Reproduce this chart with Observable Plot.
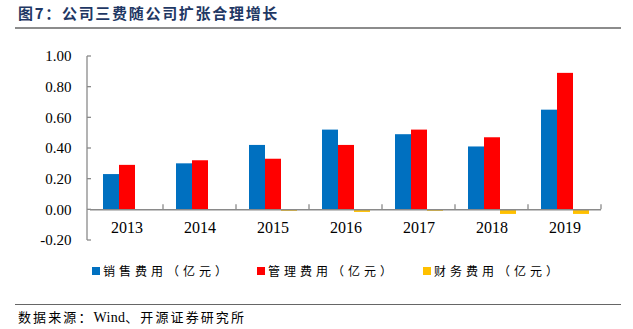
<!DOCTYPE html>
<html><head><meta charset="utf-8">
<script src="https://cdn.jsdelivr.net/npm/d3@7"></script>
<script src="https://cdn.jsdelivr.net/npm/@observablehq/plot@0.6"></script>
<style>
body{margin:0;width:633px;height:329px;position:relative;background:#fff;overflow:hidden;}
#title{position:absolute;left:18px;top:4px;font:bold 15px "Noto Sans CJK SC";color:#1F3864;letter-spacing:1.7px;white-space:nowrap;line-height:18px;}
.hr1{position:absolute;left:15px;right:12px;top:27px;height:2px;background:#8c8c8c;}
#chart{position:absolute;left:0;top:30px;}
#legend{position:absolute;top:263px;left:0;width:633px;height:18px;}
.item{position:absolute;top:0;font:12px "Noto Sans CJK SC";letter-spacing:4px;white-space:nowrap;line-height:16px;color:#000;}
.sw{display:inline-block;width:8px;height:8px;margin-right:3px;vertical-align:1px;}
.hr2{position:absolute;left:15px;right:12px;top:304px;height:1px;background:#666;}
#source{position:absolute;left:18px;top:310px;font:13px "Liberation Serif","Noto Sans CJK SC";letter-spacing:2.1px;white-space:nowrap;line-height:16px;color:#000;}
#source .en{letter-spacing:0.3px;font-size:14px;}
</style>
</head><body>
<div id="title">图7：公司三费随公司扩张合理增长</div>
<div class="hr1"></div>
<div id="chart"></div>
<div id="legend"></div>
<div class="hr2"></div>
<div id="source">数据来源：<span class="en">Wind</span>、开源证券研究所</div>
<script>
const years = ["2013","2014","2015","2016","2017","2018","2019"];
const series = ["销售费用（亿元）","管理费用（亿元）","财务费用（亿元）"];
const sales   = [0.23,0.30,0.42,0.52,0.49,0.41,0.65];
const admin   = [0.29,0.32,0.33,0.42,0.52,0.47,0.89];
const finance = [0.00,0.00,-0.01,-0.017,-0.01,-0.03,-0.03];
const colors = ["#0070C0","#FF0000","#FFC000"];
const yTicks = [-0.2,0,0.2,0.4,0.6,0.8,1.0];
const legendX = [92,257,423];

const values = [sales, admin, finance];
const rows = [];
years.forEach((yr,i) => series.forEach((s,j) => rows.push({year:yr, series:s, value:values[j][i]})));

const axisColor = "#8a8a8a";
const chart = Plot.plot({
  width:633, height:225,
  marginLeft:87, marginRight:29, marginTop:26, marginBottom:15,
  style:{fontFamily:"Liberation Serif", fontSize:"15px", color:"#000", background:"transparent"},
  fx:{domain:years, paddingInner:0, paddingOuter:0, axis:null, label:null},
  x:{domain:series, paddingInner:0, paddingOuter:0.72, axis:null, label:null},
  y:{domain:[-0.2,1], ticks:yTicks, tickFormat:d=>d.toFixed(2), tickSize:0, tickPadding:19, label:null},
  color:{domain:series, range:colors},
  marks:[
    Plot.barY(rows,{fx:"year", x:"series", y:"value", fill:"series"}),
    Plot.ruleY([0],{stroke:axisColor, strokeWidth:1.5}),
    Plot.text(years,{fx:d=>d, text:d=>d, y:()=>0, dy:18, fontSize:16, fill:"#000"})
  ]
});
document.getElementById("chart").appendChild(chart);

// axis line and inward ticks derived from the plot's scales
const fx = chart.scale("fx"), y = chart.scale("y");
const svg = d3.select(chart);
const g = svg.append("g").attr("stroke", axisColor).attr("stroke-width", 1.3).attr("fill","none");
const x0 = fx.range[0];
g.append("line").attr("x1",x0).attr("x2",x0).attr("y1",y.apply(1)).attr("y2",y.apply(-0.2));
yTicks.forEach(t => g.append("line").attr("x1",x0).attr("x2",x0+4).attr("y1",y.apply(t)).attr("y2",y.apply(t)));
years.forEach(yr => {
  const xr = fx.apply(yr) + fx.bandwidth;
  g.append("line").attr("x1",xr).attr("x2",xr).attr("y1",y.apply(0)).attr("y2",y.apply(0)-5);
});

const legend = document.getElementById("legend");
series.forEach((s,i) => {
  const d = document.createElement("div");
  d.className = "item";
  d.style.left = legendX[i] + "px";
  d.innerHTML = `<span class="sw" style="background:${colors[i]}"></span>${s}`;
  legend.appendChild(d);
});
</script>
</body></html>
